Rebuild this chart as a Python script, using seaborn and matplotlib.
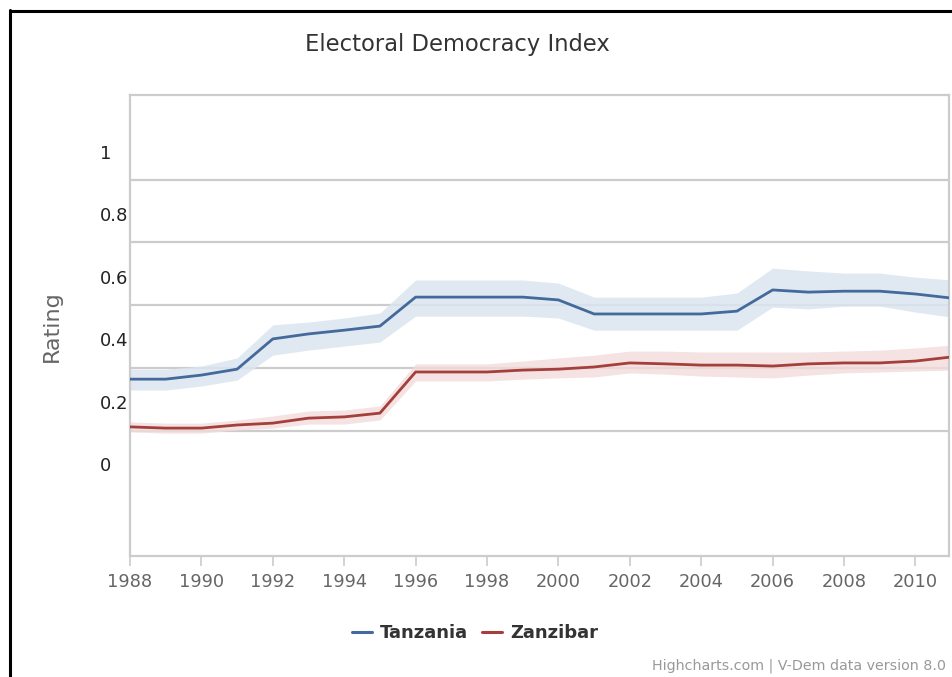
import numpy as np
import pandas as pd
import matplotlib
matplotlib.use("Agg")
import matplotlib.pyplot as plt
from matplotlib.lines import Line2D
import seaborn as sns

# ---- data -------------------------------------------------------------
years = list(range(1988, 2012))

tanzania = [0.272, 0.272, 0.285, 0.304, 0.401, 0.417, 0.429, 0.442, 0.535, 0.535,
            0.535, 0.535, 0.526, 0.481, 0.481, 0.481, 0.481, 0.490, 0.558, 0.551,
            0.554, 0.554, 0.545, 0.532]
tanzania_high = [0.304, 0.304, 0.314, 0.340, 0.446, 0.455, 0.468, 0.484, 0.590, 0.590,
                 0.590, 0.590, 0.580, 0.535, 0.535, 0.535, 0.535, 0.548, 0.628, 0.619,
                 0.612, 0.612, 0.599, 0.590]
tanzania_low = [0.237, 0.237, 0.250, 0.269, 0.349, 0.365, 0.378, 0.391, 0.474, 0.474,
                0.474, 0.474, 0.468, 0.429, 0.429, 0.429, 0.429, 0.429, 0.503, 0.497,
                0.506, 0.506, 0.487, 0.471]

zanzibar = [0.119, 0.115, 0.115, 0.125, 0.131, 0.147, 0.151, 0.163, 0.295, 0.295,
            0.295, 0.301, 0.304, 0.311, 0.324, 0.321, 0.317, 0.317, 0.314, 0.321,
            0.324, 0.324, 0.330, 0.343]
zanzibar_high = [0.135, 0.131, 0.131, 0.141, 0.154, 0.170, 0.173, 0.186, 0.321, 0.321,
                 0.321, 0.330, 0.340, 0.349, 0.362, 0.362, 0.359, 0.359, 0.359, 0.359,
                 0.362, 0.365, 0.372, 0.381]
zanzibar_low = [0.103, 0.099, 0.099, 0.109, 0.115, 0.128, 0.128, 0.141, 0.266, 0.266,
                0.266, 0.272, 0.276, 0.279, 0.292, 0.288, 0.282, 0.279, 0.276, 0.285,
                0.292, 0.295, 0.298, 0.301]

series_names = ["Tanzania", "Zanzibar"]
y_tick_values = [0, 0.2, 0.4, 0.6, 0.8, 1]
y_tick_labels = ["0", "0.2", "0.4", "0.6", "0.8", "1"]
grid_values = [0.107, 0.308, 0.510, 0.711, 0.910]
x_tick_values = list(range(1988, 2011, 2))

title = "Electoral Democracy Index"
y_title = "Rating"
credit = "Highcharts.com | V-Dem data version 8.0"

# ---- styling ----------------------------------------------------------
sns.set_style("white")
plt.rcParams["font.family"] = ["DejaVu Sans"]

line_colors = {"Tanzania": "#44699b", "Zanzibar": "#a53f3c"}
band_colors = {"Tanzania": "#dbe5f0", "Zanzibar": "#f2dcdb"}
frame_grey = "#cccccc"

W, H = 952, 677
fig = plt.figure(figsize=(W / 100, H / 100), dpi=100)
ax = fig.add_axes([130 / W, 1 - 556 / H, (949 - 130) / W, (556 - 95) / H])

df = pd.DataFrame({
    "year": years * 2,
    "value": tanzania + zanzibar,
    "series": ["Tanzania"] * len(years) + ["Zanzibar"] * len(years),
})

# uncertainty bands
ax.fill_between(years, tanzania_low, tanzania_high, color=band_colors["Tanzania"],
                alpha=0.85, linewidth=0, zorder=1)
ax.fill_between(years, zanzibar_low, zanzibar_high, color=band_colors["Zanzibar"],
                alpha=0.8, linewidth=0, zorder=1)

sns.lineplot(data=df, x="year", y="value", hue="series", palette=line_colors,
             hue_order=series_names, linewidth=2.0, errorbar=None, ax=ax,
             legend=False, zorder=3)

ax.set_xlim(1988, 2010.94)
ax.set_ylim(-0.295, 1.183)

# y axis: labels at the values, horizontal grid lines on minor ticks
ax.set_yticks(y_tick_values)
ax.set_yticklabels(y_tick_labels)
ax.set_yticks(grid_values, minor=True)
ax.grid(False)
ax.grid(True, which="minor", axis="y", color=frame_grey, linewidth=1.6, zorder=2)
ax.tick_params(axis="y", which="both", length=0)
ax.tick_params(axis="y", which="major", pad=21.6, labelsize=13, labelcolor="#222222")
for lbl in ax.get_yticklabels():
    lbl.set_horizontalalignment("left")

# x axis
ax.set_xticks(x_tick_values)
ax.set_xticklabels([str(v) for v in x_tick_values])
ax.tick_params(axis="x", which="major", length=7, width=1.2, color=frame_grey,
               pad=5, labelsize=12.8, labelcolor="#666666", bottom=True)

ax.set_xlabel("")
ax.set_ylabel("")
for side in ["left", "right", "top", "bottom"]:
    ax.spines[side].set_visible(True)
    ax.spines[side].set_color(frame_grey)
    ax.spines[side].set_linewidth(1.6)

# titles and credit
fig.text(457 / W, 1 - 44 / H, title, ha="center", va="center", fontsize=16.3,
         color="#333333")
fig.text(52 / W, 1 - 326 / H, y_title, ha="center", va="center", rotation=90,
         fontsize=16, color="#666666")
fig.text(946 / W, 1 - 666 / H, credit, ha="right", va="center", fontsize=10.3,
         color="#999999")

# legend
handles = [Line2D([0], [0], color=line_colors[n], linewidth=2.2) for n in series_names]
leg = fig.legend(handles, series_names, loc="center", bbox_to_anchor=(475 / W, 1 - 633 / H),
                 ncol=2, frameon=False, handlelength=1.1, handletextpad=0.45,
                 columnspacing=0.8, prop={"weight": "bold", "size": 13})
for t in leg.get_texts():
    t.set_color("#333333")

# outer frame on the left and top edges
fig.add_artist(Line2D([10 / W, 10 / W], [0, 1 - 10 / H], color="black", linewidth=2.2,
                      transform=fig.transFigure))
fig.add_artist(Line2D([10 / W, 1], [1 - 10.5 / H, 1 - 10.5 / H], color="black",
                      linewidth=2.2, transform=fig.transFigure))

fig.savefig("out.png", dpi=100)
